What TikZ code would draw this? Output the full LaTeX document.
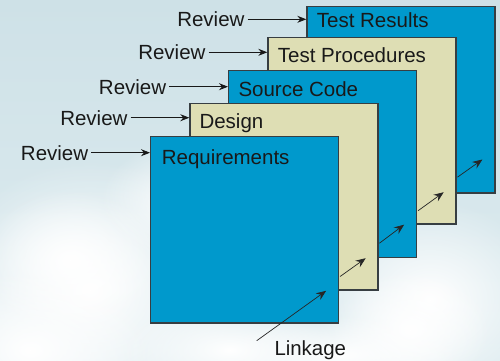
\documentclass[tikz,border=0pt]{standalone}
\usepackage{fontspec}
\setmainfont{Liberation Sans}
\usetikzlibrary{arrows.meta,calc,fadings}

\definecolor{skyblue}{RGB}{206,225,231}
\definecolor{skylow}{RGB}{222,236,240}
\definecolor{docblue}{RGB}{0,153,204}
\definecolor{docbeige}{RGB}{222,222,180}
\definecolor{docedge}{RGB}{55,62,66}

\tikzset{
  docsheet/.style={rectangle, draw=docedge, line width=1.4pt, inner sep=0pt,
    minimum width=188pt, minimum height=186.7pt, anchor=north west},
  bluesheet/.style={docsheet, fill=docblue},
  beigesheet/.style={docsheet, fill=docbeige},
  sheettitle/.style={anchor=base west, inner sep=0pt, font=\fontsize{20.5}{24}\selectfont, text=black!90},
  reviewtag/.style={anchor=east, inner xsep=3pt, inner ysep=0pt, font=\fontsize{20.5}{24}\selectfont, text=black!90},
  reviewarrow/.style={draw=black!90, line width=0.9pt, -{Stealth[length=9pt,width=7pt,inset=3pt]}},
  linkarrow/.style={draw=black!85, line width=0.7pt, -{Stealth[length=10pt,width=8pt,inset=3.5pt]}},
  cloud/.style={fill=white, path fading=fuzzy}
}
\tikzfading[name=fuzzy, inner color=transparent!0, outer color=transparent!100]

\begin{document}
\begin{tikzpicture}[x=1pt,y=-1pt]
  \useasboundingbox (0,0) rectangle (500,360);

  % sky backdrop with soft clouds
  \shade[top color=skyblue, bottom color=skylow] (0,0) rectangle (500,360);
  \begin{scope}
    \clip (0,0) rectangle (500,360);
    \fill[cloud] (90,290) ellipse (150pt and 130pt);
    \fill[cloud] (70,260) ellipse (90pt and 70pt);
    \fill[cloud] (190,200) ellipse (90pt and 60pt);
    \fill[cloud] (30,350) ellipse (120pt and 80pt);
    \fill[cloud] (230,350) ellipse (110pt and 50pt);
    \fill[cloud] (430,300) ellipse (120pt and 100pt);
    \fill[cloud] (410,330) ellipse (80pt and 60pt);
    \fill[cloud] (340,355) ellipse (120pt and 40pt);
  \end{scope}

  % stacked document sheets, back to front
  \node[bluesheet]  (res)  at (306.3,5.7)   {};
  \node[beigesheet] (proc) at (267.3,36.7)  {};
  \node[bluesheet]  (src)  at (228,70)      {};
  \node[beigesheet] (des)  at (189.3,102.7) {};
  \node[bluesheet]  (req)  at (150,135.7)   {};

  % sheet titles
  \node[sheettitle] (tres)  at ($(res.north west)+(10.4,22)$)  {Test Results};
  \node[sheettitle] (tproc) at ($(proc.north west)+(10.4,26)$) {Test Procedures};
  \node[sheettitle] (tsrc)  at ($(src.north west)+(10.3,26.7)$) {Source Code};
  \node[sheettitle] (tdes)  at ($(des.north west)+(10,25.6)$)  {Design};
  \node[sheettitle] (treq)  at ($(req.north west)+(11.7,28.3)$) {Requirements};

  % review inputs
  \node[reviewtag] (rvres)  at ($(res.north west)+(-58.6,13.6)$)  {Review};
  \node[reviewtag] (rvproc) at ($(proc.north west)+(-58.6,15.6)$) {Review};
  \node[reviewtag] (rvsrc)  at ($(src.north west)+(-58.6,16.7)$)  {Review};
  \node[reviewtag] (rvdes)  at ($(des.north west)+(-58.6,15)$)    {Review};
  \node[reviewtag] (rvreq)  at ($(req.north west)+(-58.6,17)$)    {Review};

  \draw[reviewarrow] (rvres.east)  -- (res.west |- rvres.east);
  \draw[reviewarrow] (rvproc.east) -- (proc.west |- rvproc.east);
  \draw[reviewarrow] (rvsrc.east)  -- (src.west |- rvsrc.east);
  \draw[reviewarrow] (rvdes.east)  -- (des.west |- rvdes.east);
  \draw[reviewarrow] (rvreq.east)  -- (req.west |- rvreq.east);

  % linkage between successive sheets
  \node[anchor=base west, inner sep=0pt, font=\fontsize{20.4}{24}\selectfont, text=black!90]
    (link) at (274.3,355) {Linkage};
  \coordinate (linkstart) at (256.7,340.7);
  \coordinate (hreq)  at ($(req.south east)+(-13.3,-33)$);
  \coordinate (hdes)  at ($(des.south east)+(-13,-32.6)$);
  \coordinate (hsrc)  at ($(src.south east)+(-13.3,-33.4)$);
  \coordinate (hproc) at ($(proc.south east)+(-13,-32.6)$);
  \coordinate (hres)  at ($(res.south east)+(-13.3,-34.3)$);

  \draw[linkarrow] (linkstart) -- (hreq);
  \draw[linkarrow] ($(req.south east)+(0.7,-47.3)$)  -- (hdes);
  \draw[linkarrow] ($(des.south east)+(0.7,-47.6)$)  -- (hsrc);
  \draw[linkarrow] ($(src.south east)+(0.7,-47.4)$)  -- (hproc);
  \draw[linkarrow] ($(proc.south east)+(0.7,-47.6)$) -- (hres);
\end{tikzpicture}
\end{document}
